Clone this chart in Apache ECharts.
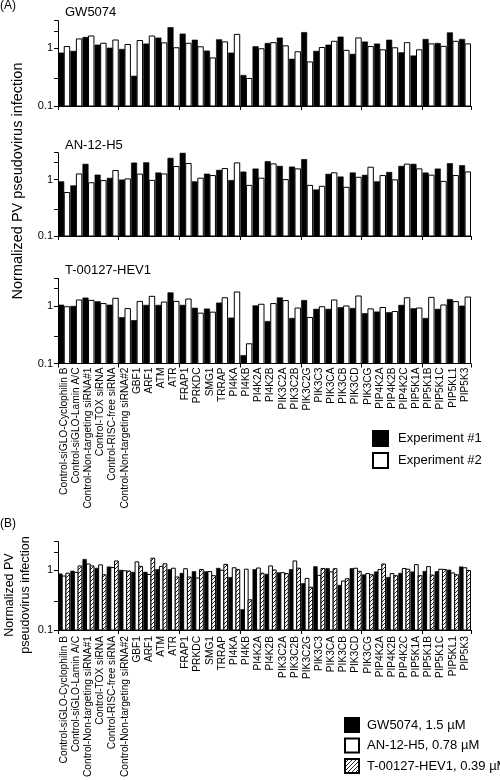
<!DOCTYPE html>
<html><head><meta charset="utf-8">
<script src="https://cdn.jsdelivr.net/npm/echarts@6/dist/echarts.min.js"></script>
<style>html,body{margin:0;padding:0;background:#fff}#c{width:500px;height:780px}</style>
</head><body><div id="c"></div>
<script>
const categories = ['Control-siGLO-Cyclophilin B','Control-siGLO-Lamin A/C','Control-Non-targeting siRNA#1','Control-TOX siRNA','Control-RISC-free siRNA','Control-Non-targeting siRNA#2','GBF1','ARF1','ATM','ATR','FRAP1','PRKDC','SMG1','TRRAP','PI4KA','PI4KB','PI4K2A','PI4K2B','PIK3C2A','PIK3C2B','PIK3C2G','PIK3C3','PIK3CA','PIK3CB','PIK3CD','PIK3CG','PIP4K2A','PIP4K2B','PIP4K2C','PIP5K1A','PIP5K1B','PIP5K1C','PIP5KL1','PIP5K3'];
const yTickValues = [0.1, 0.3, 1, 2, 3];
const yLabelValues = [0.1, 1];
const yTickLabels = ['0.1', '1'];
const panelTitles = ['GW5074', 'AN-12-H5', 'T-00127-HEV1'];
const expNames = ['Experiment #1', 'Experiment #2'];
const compoundNames = ['GW5074, 1.5 µM', 'AN-12-H5, 0.78 µM', 'T-00127-HEV1, 0.39 µM'];

const gwExp1 = [0.83,0.89,1.55,1.14,1.01,0.96,0.33,1.19,1.51,2.29,1.77,1.39,0.90,1.41,0.83,0.34,1.07,1.22,1.51,0.65,1.88,0.89,1.14,1.57,0.79,1.29,1.19,1.39,0.84,0.74,1.43,1.22,1.86,1.43];
const gwExp2 = [1.07,1.45,1.63,1.22,1.39,1.16,1.36,1.63,1.24,1.02,1.22,1.06,0.68,1.29,1.74,0.30,0.98,1.25,1.10,0.87,0.58,1.03,1.32,0.92,1.51,1.07,0.94,1.02,1.25,0.94,1.19,1.08,1.32,1.19];
const anExp1 = [0.92,0.78,1.88,1.21,1.06,0.99,1.98,2.0,1.32,2.4,2.95,0.92,1.26,1.47,0.97,1.37,1.55,2.1,1.73,1.68,2.28,0.66,1.25,1.12,1.32,1.20,0.92,1.35,1.73,1.88,1.32,1.55,1.93,1.78];
const anExp2 = [0.59,1.26,0.88,0.96,1.45,1.03,1.25,0.97,1.26,1.71,1.93,1.06,1.18,1.57,1.98,0.79,1.06,1.9,1.0,1.55,0.79,0.76,1.32,0.73,1.10,1.66,1.18,0.99,1.88,1.55,1.20,0.93,1.18,1.37];
const teExp1 = [1.04,0.99,1.38,1.19,1.04,0.63,0.56,1.03,1.03,1.70,1.03,0.92,0.89,1.13,0.62,0.138,1.01,0.54,1.39,0.61,1.25,0.88,0.88,0.94,0.91,0.74,0.79,0.77,1.03,0.9,0.61,0.88,1.30,1.0];
const teExp2 = [0.97,1.27,1.25,1.10,1.36,0.90,1.2,1.47,1.17,1.2,1.32,0.75,0.78,1.39,1.75,0.22,1.07,1.10,1.24,0.92,0.63,0.97,1.27,1.0,1.49,0.89,0.94,0.80,1.39,0.92,1.41,1.04,1.19,1.43];
const bGW = [0.87,0.97,1.52,1.08,1.14,1.0,0.93,0.93,1.03,1.03,0.89,0.95,0.95,1.08,0.76,0.22,1.03,0.86,0.91,1.03,0.60,1.15,1.07,0.56,1.07,0.84,0.94,0.76,0.89,0.94,0.96,0.95,1.01,1.14];
const bAN = [0.80,0.92,1.27,1.23,1.11,0.98,1.38,0.85,1.16,1.08,1.06,0.74,0.95,1.0,1.1,1.04,1.09,1.18,0.91,1.43,0.73,0.82,0.94,0.66,1.08,0.88,1.03,0.88,1.07,1.24,1.15,1.04,0.9,1.1];
const bTE = [0.89,1.18,1.18,0.84,1.43,0.97,1.16,1.59,1.28,0.77,0.77,1.03,0.81,1.25,1.02,0.32,0.89,1.01,0.88,1.08,0.52,1.07,1.06,0.72,0.96,0.84,1.27,0.81,1.04,0.81,0.83,1.03,0.84,0.99];

const FONT = '"Liberation Sans", Arial, sans-serif';
const grids = [
  {left: 58, right: 29, top: 20.7, height: 85.3},
  {left: 58, right: 29, top: 152.7, height: 83.3},
  {left: 58, right: 29, top: 278.5, height: 85},
  {left: 58, right: 29, top: 541.7, height: 105}
];
function yLabel(v) {
  for (let i = 0; i < yLabelValues.length; i++) if (Math.abs(v - yLabelValues[i]) < 1e-6) return yTickLabels[i];
  return '';
}
function yAxis(gi) {
  return {type: 'log', logBase: 10, gridIndex: gi, min: 0.1, max: 3,
    axisLine: {show: true, lineStyle: {color: '#000', width: 1}},
    axisTick: {show: true, length: 4, customValues: yTickValues, lineStyle: {color: '#000'}},
    splitLine: {show: false},
    axisLabel: {fontSize: 11, color: '#000', fontFamily: FONT, margin: 5, customValues: yLabelValues, formatter: yLabel}};
}
function xAxis(gi, showLabels, margin) {
  return {type: 'category', gridIndex: gi, data: categories,
    axisLine: {show: true, lineStyle: {color: '#000', width: 1}},
    axisTick: {show: true, length: 4, alignWithLabel: false, interval: (i) => i % 5 === 0, lineStyle: {color: '#000'}},
    axisLabel: {show: showLabels, interval: 0, rotate: 90, fontSize: 10.2, color: '#000', fontFamily: FONT, margin: margin}};
}
// hatch pattern
const hc = document.createElement('canvas');
hc.width = 4; hc.height = 4;
(function () {
  const ctx = hc.getContext('2d');
  ctx.fillStyle = '#fff'; ctx.fillRect(0, 0, 4, 4);
  ctx.strokeStyle = '#222'; ctx.lineWidth = 1;
  ctx.beginPath();
  ctx.moveTo(-1, 5); ctx.lineTo(5, -1);
  ctx.moveTo(-1, 1); ctx.lineTo(1, -1);
  ctx.moveTo(3, 5); ctx.lineTo(5, 3);
  ctx.stroke();
})();
const hatchFill = {image: hc, repeat: 'repeat'};

const blackStyle = {color: '#000', borderColor: '#000', borderWidth: 0.6};
const whiteStyle = {color: '#fff', borderColor: '#000', borderWidth: 1};
const hatchStyle = {color: hatchFill, borderColor: '#000', borderWidth: 1};

function bars(name, values, gi, k, n, style, catGap, barGap) {
  return {
    type: 'custom', name: name, xAxisIndex: gi, yAxisIndex: gi,
    data: values.map((v, i) => [i, v]), encode: {x: 0, y: 1},
    itemStyle: style, animation: false, silent: true,
    renderItem: function (params, api) {
      const i = api.value(0), v = api.value(1);
      const p = api.coord([i, v]);
      const b = api.coord([i, 0.1]);
      const bw = params.coordSys.width / categories.length;
      const usable = bw * (1 - catGap);
      const w = usable / (n + (n - 1) * barGap);
      const x0 = p[0] - usable / 2 + k * w * (1 + barGap);
      return {type: 'rect', shape: {x: x0, y: p[1], width: w, height: b[1] - p[1]},
        style: {fill: style.color, stroke: style.borderColor, lineWidth: style.borderWidth}};
    }
  };
}

const option = {
  animation: false,
  textStyle: {fontFamily: FONT},
  grid: grids,
  xAxis: [xAxis(0, false, 4), xAxis(1, false, 4), xAxis(2, true, 4), xAxis(3, true, 6)],
  yAxis: [yAxis(0), yAxis(1), yAxis(2), yAxis(3)],
  title: [
    {text: panelTitles[0], left: 60, top: 1, textStyle: {fontSize: 13, fontWeight: 'normal', color: '#000', fontFamily: FONT}},
    {text: panelTitles[1], left: 60, top: 134, textStyle: {fontSize: 13, fontWeight: 'normal', color: '#000', fontFamily: FONT}},
    {text: panelTitles[2], left: 60, top: 259, textStyle: {fontSize: 13, fontWeight: 'normal', color: '#000', fontFamily: FONT}}
  ],
  legend: [
    {data: expNames, orient: 'vertical', left: 367, top: 425, itemWidth: 15, itemHeight: 15, itemGap: 5, icon: 'rect',
      selectedMode: false, textStyle: {fontSize: 13, color: '#000', fontFamily: FONT, padding: [0, 0, 0, 5]}},
    {data: compoundNames, orient: 'vertical', left: 339, top: 712, itemWidth: 14, itemHeight: 14, itemGap: 4.5, icon: 'rect',
      selectedMode: false, textStyle: {fontSize: 13, color: '#000', fontFamily: FONT, padding: [0, 0, 0, 3]}}
  ],
  graphic: [
    {type: 'text', left: 0, top: 0, style: {text: '(A)', fontSize: 12, fill: '#000', fontFamily: FONT}},
    {type: 'text', left: 0, top: 518, style: {text: '(B)', fontSize: 12, fill: '#000', fontFamily: FONT}},
    {type: 'text', x: 18, y: 181, rotation: Math.PI / 2,
      style: {text: 'Normalized PV pseudovirus infection', fontSize: 14.5, fill: '#000', fontFamily: FONT, align: 'center', verticalAlign: 'middle'}},
    {type: 'text', x: 18, y: 595, rotation: Math.PI / 2,
      style: {text: 'Normalized PV\npseudovirus infection', fontSize: 12.5, lineHeight: 16, fill: '#000', fontFamily: FONT, align: 'center', verticalAlign: 'middle'}}
  ],
  series: [
    bars(expNames[0], gwExp1, 0, 0, 2, blackStyle, 0.08, 0.06), bars(expNames[1], gwExp2, 0, 1, 2, whiteStyle, 0.08, 0.06),
    bars(expNames[0], anExp1, 1, 0, 2, blackStyle, 0.08, 0.06), bars(expNames[1], anExp2, 1, 1, 2, whiteStyle, 0.08, 0.06),
    bars(expNames[0], teExp1, 2, 0, 2, blackStyle, 0.08, 0.06), bars(expNames[1], teExp2, 2, 1, 2, whiteStyle, 0.08, 0.06),
    bars(compoundNames[0], bGW, 3, 0, 3, blackStyle, 0.08, 0), bars(compoundNames[1], bAN, 3, 1, 3, whiteStyle, 0.08, 0),
    bars(compoundNames[2], bTE, 3, 2, 3, hatchStyle, 0.08, 0)
  ]
};
const chart = echarts.init(document.getElementById('c'), null, {renderer: 'canvas'});
chart.setOption(option);
</script>
</body></html>
